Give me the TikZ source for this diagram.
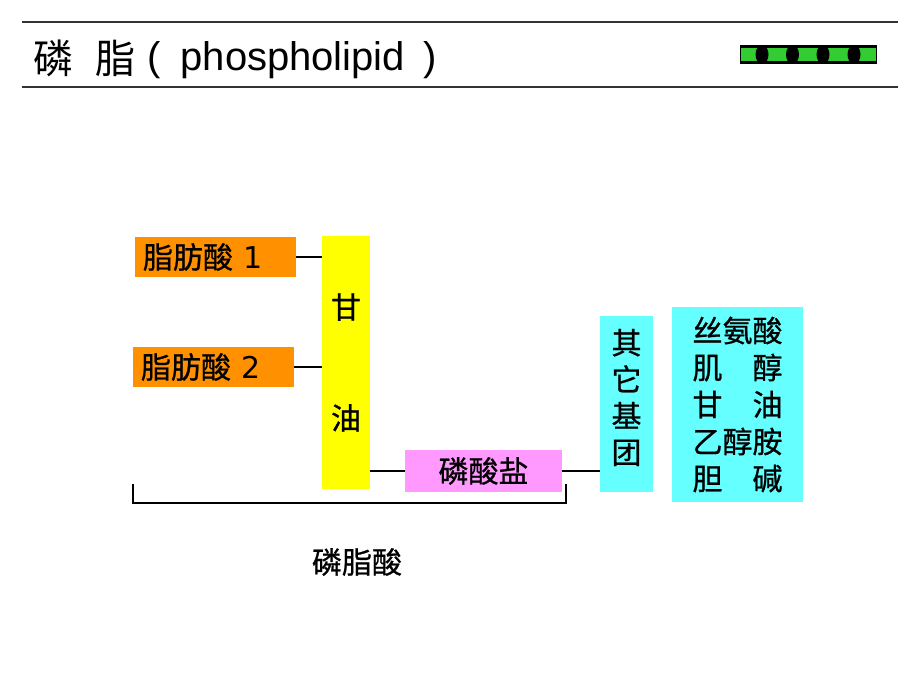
\documentclass[tikz,border=0pt]{standalone}
\usepackage{fontspec}
\setmainfont{Liberation Sans}
\newfontfamily\cjk{Noto Sans CJK SC}
\newfontfamily\cjkb{Noto Sans CJK SC}[FakeBold=0.8]
\newfontfamily\digitfont{DejaVu Sans}
\definecolor{faorange}{HTML}{FF9000}
\definecolor{glyyellow}{HTML}{FFFF00}
\definecolor{phpink}{HTML}{FF99FF}
\definecolor{grpcyan}{HTML}{66FFFF}
\definecolor{icongreen}{HTML}{33CC33}
\tikzset{
  conn/.style={line width=2.8pt, black},
  rule/.style={line width=2.4pt, black!80},
  cnfont/.style={font=\fontsize{30}{36}\cjkb},
  fabox/.style={fill=faorange, draw=none, minimum height=40pt, inner ysep=0pt,
    inner xsep=8pt, text width=145pt, align=left, cnfont},
  colbox/.style={draw=none, inner sep=0pt},
}
\begin{document}
\begin{tikzpicture}[x=1pt,y=-1pt]
\useasboundingbox (0,0) rectangle (920,690);
\fill[white] (0,0) rectangle (920,690);

% title rules
\draw[rule] (22,22) -- (898,22);
\draw[rule] (22,87) -- (898,87);
\node[anchor=base west, inner sep=0pt, font=\fontsize{40}{48}\selectfont] (title) at (33,71)
  {\raisebox{-3pt}{\cjk 磷}\hspace{22pt}\raisebox{-3pt}{\cjk 脂}\hspace{12pt}(\hspace{20pt}phospholipid\hspace{18pt})};

% icon
\node[colbox, fill=black, minimum width=137pt, minimum height=19pt] (icon) at (808.5,54.5) {};
\fill[icongreen] (741,48) rectangle (876,61);
\foreach \cx in {762,792.5,823,854}
  \fill[black] (\cx,54.5) ellipse [x radius=6.5pt, y radius=9.5pt];

% fatty acids
\node[fabox] (fa1) at (215.5,257) {脂肪酸 {\digitfont 1}};
\node[fabox] (fa2) at (213.5,367) {脂肪酸 {\digitfont 2}};

% glycerol
\node[colbox, fill=glyyellow, minimum width=48pt, minimum height=253pt, align=center,
  font=\fontsize{30}{36}\cjkb] (gly) at (346,362.5) {甘\\[75pt]油};

% phosphate
\node[colbox, fill=phpink, minimum width=157pt, minimum height=42pt, cnfont] (pho) at (483.5,471) {磷酸盐};

% other group
\node[colbox, fill=grpcyan, minimum width=53pt, minimum height=176pt] (oth) at (626.5,404) {};
\node[inner sep=0pt, align=center, font=\fontsize{30}{36.5}\cjkb] (othtext) at (626.5,397.5) {其\\它\\基\\团};

% group list
\node[colbox, fill=grpcyan, minimum width=131pt, minimum height=195pt, align=center,
  font=\fontsize{30}{37}\cjkb] (grp) at (737.5,404.5)
  {丝氨酸\\肌\hspace{1em}醇\\甘\hspace{1em}油\\乙醇胺\\胆\hspace{1em}碱};

% connectors
\draw[conn] (fa1.east) -- (fa1.east -| gly.west);
\draw[conn] (fa2.east) -- (fa2.east -| gly.west);
\draw[conn] (pho.west -| gly.east) -- (pho.west);
\draw[conn] (pho.east) -- (pho.east -| oth.west);

% bracket
\coordinate (bl) at (133,484);
\coordinate (br) at (566,484);
\draw[conn] (bl) -- ++(0,19) -| (br);
\node[inner sep=0pt, cnfont] (pa) at (357,562) {磷脂酸};
\end{tikzpicture}
\end{document}
